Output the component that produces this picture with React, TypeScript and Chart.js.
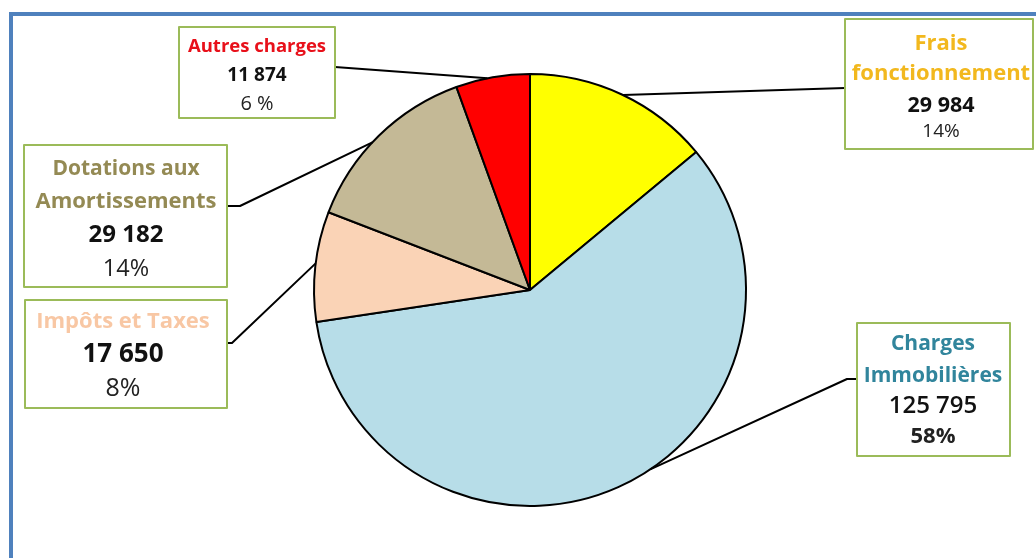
import React, { useEffect, useRef } from "react";
import { Chart, registerables } from "chart.js";

Chart.register(...registerables);

// ---- data ----
const categories = [
  "Frais fonctionnement",
  "Charges Immobilières",
  "Impôts et Taxes",
  "Dotations aux Amortissements",
  "Autres charges",
];
const titleLines = [
  ["Frais", "fonctionnement"],
  ["Charges", "Immobilières"],
  ["Impôts et Taxes"],
  ["Dotations aux", "Amortissements"],
  ["Autres charges"],
];
const amounts = [29984, 125795, 17650, 29182, 11874];
const pctLabels = ["14%", "58%", "8%", "14%", "6 %"];
const sliceColors = ["#FFFF00", "#B7DDE8", "#FAD3B6", "#C4B996", "#FF0000"];
const titleColors = ["#F2B81E", "#31859C", "#F8C7A4", "#948A54", "#E8101A"];

const fmt = (v: number) => String(v).replace(/\B(?=(\d{3})+(?!\d))/g, " ");

// ---- label box layout (positions only) ----
type Box = {
  x: number; y: number; w: number; h: number;
  cx: number; baselines: number[]; sizes: number[];
  valueWeight: string; pctWeight: string;
  leader: [number, number][]; frac: number;
};
const boxes: Box[] = [
  { x: 845, y: 19, w: 188, h: 130, cx: 941, baselines: [50, 80, 112, 137], sizes: [22, 22, 21.5, 19], valueWeight: "bold", pctWeight: "normal", leader: [[845, 88]], frac: 0.507 },
  { x: 857, y: 323, w: 153, h: 133, cx: 933, baselines: [350, 382, 413, 443], sizes: [21, 21, 24, 22], valueWeight: "600", pctWeight: "bold", leader: [[857, 379], [847, 379]], frac: 0.454 },
  { x: 25, y: 300, w: 202, h: 108, cx: 123, baselines: [328, 362, 396], sizes: [22, 26, 25], valueWeight: "bold", pctWeight: "normal", leader: [[227, 343], [232, 343]], frac: 0.527 },
  { x: 24, y: 145, w: 203, h: 142, cx: 126, baselines: [175, 208, 242, 276], sizes: [21, 22, 24, 23.5], valueWeight: "bold", pctWeight: "normal", leader: [[227, 206], [240, 206]], frac: 0.45 },
  { x: 179, y: 27, w: 156, h: 91, cx: 257, baselines: [52, 81, 110], sizes: [18.5, 19, 20], valueWeight: "bold", pctWeight: "normal", leader: [[335, 67]], frac: 0.43 },
];

const FONT = "'Open Sans', 'Noto Sans', sans-serif";

const framePlugin = {
  id: "frame",
  beforeDraw(chart: any) {
    const ctx = chart.ctx;
    ctx.save();
    ctx.fillStyle = "#ffffff";
    ctx.fillRect(0, 0, chart.width, chart.height);
    ctx.fillStyle = "#4F81BD";
    ctx.fillRect(9, 12, 4, chart.height);
    ctx.fillRect(9, 12, chart.width, 4);
    ctx.restore();
  },
};

const labelPlugin = {
  id: "boxLabels",
  afterDraw(chart: any) {
    const ctx = chart.ctx;
    const meta = chart.getDatasetMeta(0);
    ctx.save();
    meta.data.forEach((arc: any, i: number) => {
      const b = boxes[i];
      const p = arc.getProps(["x", "y", "startAngle", "endAngle", "outerRadius"], true);
      const a = p.startAngle + (p.endAngle - p.startAngle) * b.frac;
      const ax = p.x + Math.cos(a) * p.outerRadius;
      const ay = p.y + Math.sin(a) * p.outerRadius;
      // leader line
      ctx.strokeStyle = "#000";
      ctx.lineWidth = 2;
      ctx.lineJoin = "round";
      ctx.beginPath();
      ctx.moveTo(b.leader[0][0], b.leader[0][1]);
      for (let k = 1; k < b.leader.length; k++) ctx.lineTo(b.leader[k][0], b.leader[k][1]);
      ctx.lineTo(ax, ay);
      ctx.stroke();
      // box
      ctx.fillStyle = "#ffffff";
      ctx.fillRect(b.x, b.y, b.w, b.h);
      ctx.strokeStyle = "#9BBB59";
      ctx.lineWidth = 2;
      ctx.strokeRect(b.x, b.y, b.w, b.h);
      // text
      const lines = [...titleLines[i], fmt(amounts[i]), pctLabels[i]];
      const nT = titleLines[i].length;
      ctx.textAlign = "center";
      ctx.textBaseline = "alphabetic";
      lines.forEach((t, k) => {
        let weight = "bold";
        let color = titleColors[i];
        if (k === nT) { weight = b.valueWeight; color = "#111111"; }
        if (k === nT + 1) { weight = b.pctWeight; color = "#222222"; }
        ctx.font = `${weight} ${b.sizes[k]}px ${FONT}`;
        ctx.fillStyle = color;
        ctx.fillText(t, b.cx, b.baselines[k]);
      });
    });
    ctx.restore();
  },
};

export default function App() {
  const ref = useRef<HTMLCanvasElement | null>(null);
  useEffect(() => {
    if (!ref.current) return;
    const chart = new Chart(ref.current, {
      type: "pie",
      data: {
        labels: categories,
        datasets: [
          {
            data: amounts,
            backgroundColor: sliceColors,
            borderColor: "#000000",
            borderWidth: 2,
          },
        ],
      },
      options: {
        responsive: false,
        animation: false,
        radius: 216,
        layout: { padding: { top: 74, bottom: 52, left: 314, right: 290 } },
        plugins: { legend: { display: false }, tooltip: { enabled: false } },
      },
      plugins: [framePlugin, labelPlugin],
    } as any);
    return () => chart.destroy();
  }, []);
  return (
    <div style={{ position: "fixed", left: 0, top: 0, width: 1036, height: 558, background: "#fff" }}>
      <canvas ref={ref} width={1036} height={558} style={{ width: 1036, height: 558, display: "block" }} />
    </div>
  );
}
